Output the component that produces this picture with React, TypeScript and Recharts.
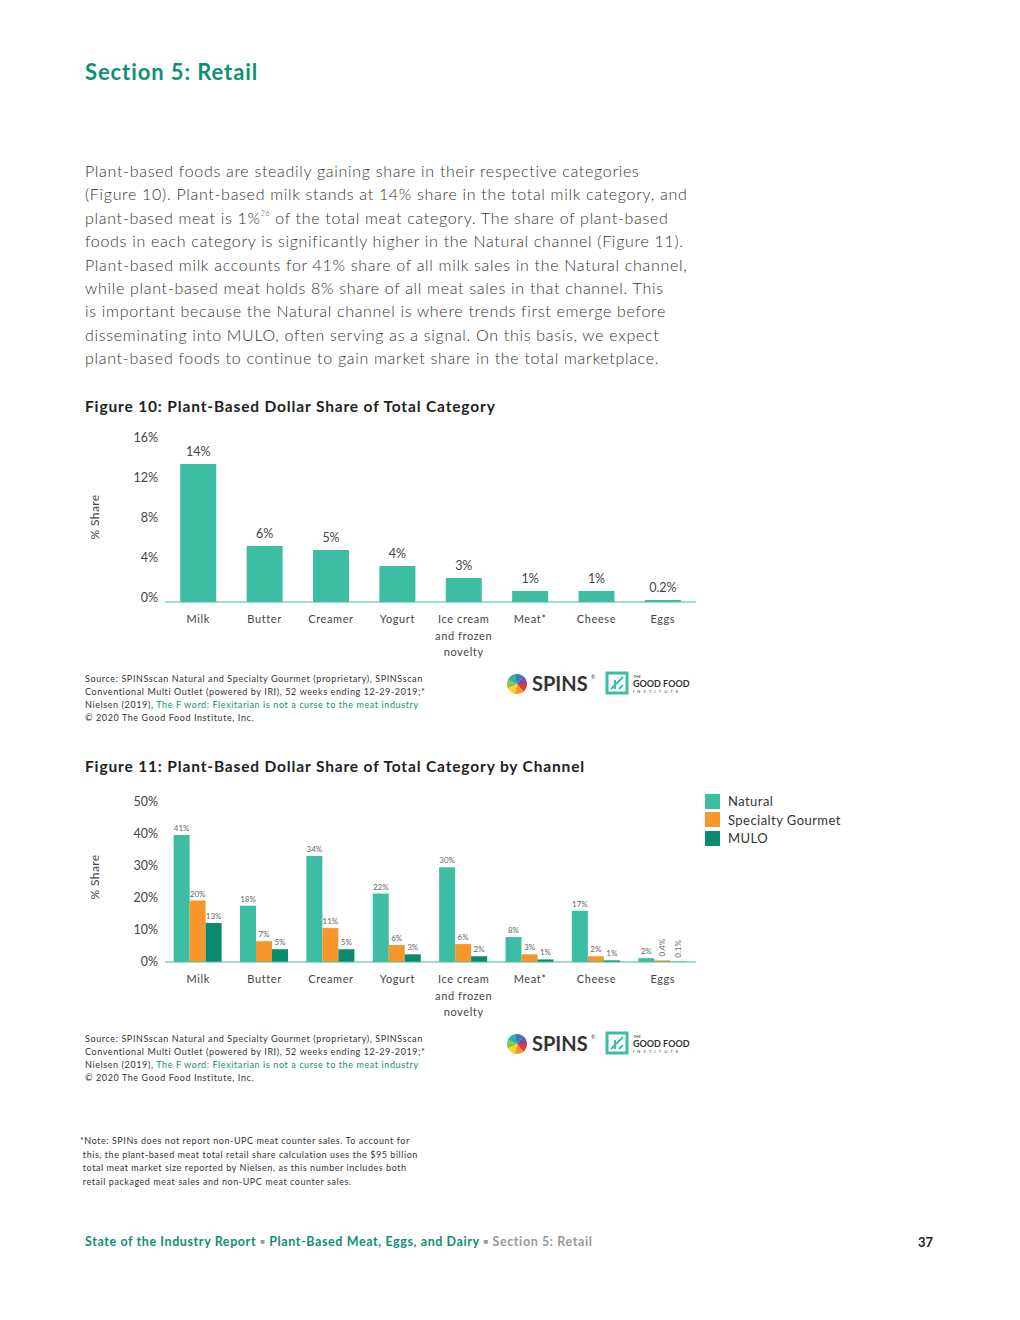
import React from 'react';
import { BarChart, Bar, XAxis, YAxis, LabelList } from 'recharts';

const categories = ['Milk', 'Butter', 'Creamer', 'Yogurt', 'Ice cream\nand frozen\nnovelty', 'Meat*', 'Cheese', 'Eggs'];

// Figure 10
const totalShare = [13.8, 5.6, 5.2, 3.6, 2.4, 1.1, 1.1, 0.2];
const totalLabels = ['14%', '6%', '5%', '4%', '3%', '1%', '1%', '0.2%'];
const fig10Ticks = [0, 4, 8, 12, 16];

// Figure 11
const naturalShare = [39.7, 17.6, 33.1, 21.4, 29.6, 7.8, 16.0, 1.2];
const naturalLabels = ['41%', '18%', '34%', '22%', '30%', '8%', '17%', '2%'];
const gourmetShare = [19.2, 6.5, 10.6, 5.3, 5.6, 2.4, 1.8, 0.5];
const gourmetLabels = ['20%', '7%', '11%', '6%', '6%', '3%', '2%', '0.4%'];
const muloShare = [12.2, 4.0, 4.0, 2.4, 1.8, 0.8, 0.5, 0.1];
const muloLabels = ['13%', '5%', '5%', '3%', '2%', '1%', '1%', '0.1%'];
const fig11Ticks = [0, 10, 20, 30, 40, 50];

const TEAL = '#3dbea2';
const ORANGE = '#f7962b';
const DARK = '#0b8a6e';
const GREEN_TEXT = '#0f8f75';
const FONT = 'Lato, "Open Sans", sans-serif';

const series = [
  { key: 'natural', name: 'Natural', color: TEAL, labelKey: 'naturalLabel' },
  { key: 'gourmet', name: 'Specialty Gourmet', color: ORANGE, labelKey: 'gourmetLabel' },
  { key: 'mulo', name: 'MULO', color: DARK, labelKey: 'muloLabel' },
];

const fig10Data = categories.map((c, i) => ({ name: c, share: totalShare[i], label: totalLabels[i] }));
const fig11Data = categories.map((c, i) => ({
  name: c,
  natural: naturalShare[i],
  naturalLabel: naturalLabels[i],
  gourmet: gourmetShare[i],
  gourmetLabel: gourmetLabels[i],
  mulo: muloShare[i],
  muloLabel: muloLabels[i],
}));

const bodyLines = [
  'Plant-based foods are steadily gaining share in their respective categories',
  '(Figure 10). Plant-based milk stands at 14% share in the total milk category, and',
  null,
  'foods in each category is significantly higher in the Natural channel (Figure 11).',
  'Plant-based milk accounts for 41% share of all milk sales in the Natural channel,',
  'while plant-based meat holds 8% share of all meat sales in that channel. This',
  'is important because the Natural channel is where trends first emerge before',
  'disseminating into MULO, often serving as a signal. On this basis, we expect',
  'plant-based foods to continue to gain market share in the total marketplace.',
];

const CategoryTick = (props: any) => {
  const { x, y, payload } = props;
  const lines = String(payload.value).split('\n');
  return (
    <text x={x} y={y + 13} textAnchor="middle" fill="#444" fontSize={11} fontFamily={FONT} letterSpacing={0.6}>
      {lines.map((l, i) => (
        <tspan key={i} x={x} dy={i === 0 ? 0 : 16.5}>{l}</tspan>
      ))}
    </text>
  );
};

const PctTick = (props: any) => {
  const { x, y, payload, shift = 0 } = props;
  return (
    <text x={x} y={y + shift} textAnchor="end" fill="#444" fontSize={12.5} fontFamily={FONT}>
      {payload.value}%
    </text>
  );
};

const shareLabel = (props: any) => {
  const { viewBox } = props;
  const cx = viewBox.x + 9;
  const cy = viewBox.y + viewBox.height / 2 - 5;
  return (
    <text x={cx} y={cy} transform={`rotate(-90 ${cx} ${cy})`} textAnchor="middle" dominantBaseline="central" fill="#444" fontSize={12} fontFamily={FONT} letterSpacing={0.4}>
      % Share
    </text>
  );
};

const smallLabel = (props: any) => {
  const { x, y, width, value, index } = props;
  const cx = x + width / 2;
  if (index === 7 && (value === '0.4%' || value === '0.1%')) {
    const ty = y - 4;
    return (
      <text x={cx + 3} y={ty} transform={`rotate(-90 ${cx + 3} ${ty})`} textAnchor="start" fill="#666" fontSize={8} fontFamily={FONT}>
        {value}
      </text>
    );
  }
  return (
    <text x={cx} y={y - 4} textAnchor="middle" fill="#666" fontSize={8} fontFamily={FONT}>
      {value}
    </text>
  );
};

const SourceBlock = ({ top }: { top: number }) => (
  <div style={{ position: 'absolute', left: 85, top, fontSize: 9, lineHeight: '13px', color: '#333', fontFamily: FONT, whiteSpace: 'nowrap', letterSpacing: 0.6 }}>
    <div>Source: SPINSscan Natural and Specialty Gourmet (proprietary), SPINSscan</div>
    <div>Conventional Multi Outlet (powered by IRI), 52 weeks ending 12-29-2019;*</div>
    <div>Nielsen (2019), <span style={{ color: GREEN_TEXT }}>The F word: Flexitarian is not a curse to the meat industry</span></div>
    <div>© 2020 The Good Food Institute, Inc.</div>
  </div>
);

const Logos = ({ top }: { top: number }) => {
  const wedge = ['#e63b2e', '#f7962b', '#f9d326', '#8cc63e', '#2bb3a8', '#2f7fc1', '#7a4ea3'];
  return (
    <svg style={{ position: 'absolute', left: 505, top }} width={190} height={26}>
      <g transform="translate(12,13)">
        {wedge.map((c, i) => {
          const a0 = (i / wedge.length) * Math.PI * 2;
          const a1 = ((i + 1) / wedge.length) * Math.PI * 2;
          return (
            <path key={i} d={`M0 0 L${10 * Math.cos(a0)} ${10 * Math.sin(a0)} A10 10 0 0 1 ${10 * Math.cos(a1)} ${10 * Math.sin(a1)} Z`} fill={c} />
          );
        })}
      </g>
      <text x={27} y={20} fontSize={20} fontWeight={700} fill="#333" fontFamily={FONT}>SPINS</text>
      <text x={86} y={8} fontSize={5} fill="#333" fontFamily={FONT}>®</text>
      <rect x={102} y={2} width={20} height={20} fill="none" stroke={TEAL} strokeWidth={3} />
      <path d="M106 18 L118 6 M110 18 L110 9 M114 18 L118 14" stroke={TEAL} strokeWidth={2} />
      <text x={128} y={7} fontSize={4} fill="#333" fontFamily={FONT}>THE</text>
      <text x={128} y={16} fontSize={9} fontWeight={700} fill="#333" fontFamily={FONT}>GOOD FOOD</text>
      <text x={128} y={22} fontSize={4} fill="#333" fontFamily={FONT} letterSpacing={3.2}>INSTITUTE</text>
    </svg>
  );
};

export default function App() {
  return (
    <div style={{ position: 'absolute', left: 0, top: 0, width: 1020, height: 1320, background: '#fff', fontFamily: FONT, color: '#333' }}>
      <div style={{ position: 'absolute', left: 85, top: 58, fontSize: 22, fontWeight: 700, color: GREEN_TEXT, letterSpacing: 0.9 }}>
        Section 5: Retail
      </div>

      <div style={{ position: 'absolute', left: 85, top: 159, fontSize: 16, lineHeight: '23.4px', fontWeight: 300, color: '#333', whiteSpace: 'nowrap', letterSpacing: 0.7 }}>
        {bodyLines.map((l, i) =>
          l === null ? (
            <div key={i}>
              plant-based meat is 1%<sup style={{ fontSize: 7, verticalAlign: 'top', lineHeight: '14px' }}>26</sup> of the total meat category. The share of plant-based
            </div>
          ) : (
            <div key={i}>{l}</div>
          )
        )}
      </div>

      <div style={{ position: 'absolute', left: 85, top: 397, fontSize: 15.5, fontWeight: 700, color: '#222', letterSpacing: 0.85, whiteSpace: 'nowrap' }}>
        Figure 10: Plant-Based Dollar Share of Total Category
      </div>

      <div style={{ position: 'absolute', left: 85, top: 425 }}>
        <BarChart width={620} height={247} data={fig10Data} margin={{ top: 17, right: 9, bottom: 0, left: 0 }} barCategoryGap="23%">
          <XAxis dataKey="name" interval={0} height={70} tickLine={false} axisLine={{ stroke: TEAL }} tick={<CategoryTick />} />
          <YAxis width={80} domain={[0, 16]} ticks={fig10Ticks} axisLine={false} tickLine={false} tickSize={0} tickMargin={7} tick={<PctTick shift={0} />} label={{ content: shareLabel }} />
          <Bar dataKey="share" fill={TEAL} isAnimationActive={false}>
            <LabelList dataKey="label" position="top" offset={8} fill="#444" fontSize={12.5} fontFamily={FONT} />
          </Bar>
        </BarChart>
      </div>

      <SourceBlock top={672} />
      <Logos top={671} />

      <div style={{ position: 'absolute', left: 85, top: 757, fontSize: 15.5, fontWeight: 700, color: '#222', letterSpacing: 0.85, whiteSpace: 'nowrap' }}>
        Figure 11: Plant-Based Dollar Share of Total Category by Channel
      </div>

      <div style={{ position: 'absolute', left: 85, top: 785 }}>
        <BarChart width={620} height={247} data={fig11Data} margin={{ top: 17, right: 9, bottom: 0, left: 0 }} barCategoryGap="13%" barGap={0}>
          <XAxis dataKey="name" interval={0} height={70} tickLine={false} axisLine={{ stroke: TEAL }} tick={<CategoryTick />} />
          <YAxis width={80} domain={[0, 50]} ticks={fig11Ticks} axisLine={false} tickLine={false} tickSize={0} tickMargin={7} tick={<PctTick shift={4} />} label={{ content: shareLabel }} />
          {series.map((s) => (
            <Bar key={s.key} dataKey={s.key} name={s.name} fill={s.color} isAnimationActive={false}>
              <LabelList dataKey={s.labelKey} content={smallLabel} />
            </Bar>
          ))}
        </BarChart>
      </div>

      <div style={{ position: 'absolute', left: 705, top: 792, fontSize: 13, color: '#333', letterSpacing: 0.45, whiteSpace: 'nowrap' }}>
        {series.map((s) => (
          <div key={s.key} style={{ display: 'flex', alignItems: 'center', height: 18.5 }}>
            <span style={{ width: 15, height: 15, background: s.color, display: 'inline-block', marginRight: 8 }} />
            <span>{s.name}</span>
          </div>
        ))}
      </div>

      <SourceBlock top={1032} />
      <Logos top={1031} />

      <div style={{ position: 'absolute', left: 80, top: 1134, fontSize: 9, lineHeight: '13.5px', color: '#333', whiteSpace: 'nowrap', letterSpacing: 0.55 }}>
        <div>*Note: SPINs does not report non-UPC meat counter sales. To account for</div>
        <div>&nbsp;this, the plant-based meat total retail share calculation uses the $95 billion</div>
        <div>&nbsp;total meat market size reported by Nielsen, as this number includes both</div>
        <div>&nbsp;retail packaged meat sales and non-UPC meat counter sales.</div>
      </div>

      <div style={{ position: 'absolute', left: 85, top: 1234, fontSize: 12.5, fontWeight: 700, whiteSpace: 'nowrap', letterSpacing: 0.6 }}>
        <span style={{ color: GREEN_TEXT }}>State of the Industry Report</span>
        <span style={{ color: '#999' }}> ▪ </span>
        <span style={{ color: GREEN_TEXT }}>Plant-Based Meat, Eggs, and Dairy</span>
        <span style={{ color: '#999' }}> ▪ Section 5: Retail</span>
      </div>
      <div style={{ position: 'absolute', left: 918, top: 1234, fontSize: 13, fontWeight: 700, color: '#222' }}>37</div>
    </div>
  );
}
